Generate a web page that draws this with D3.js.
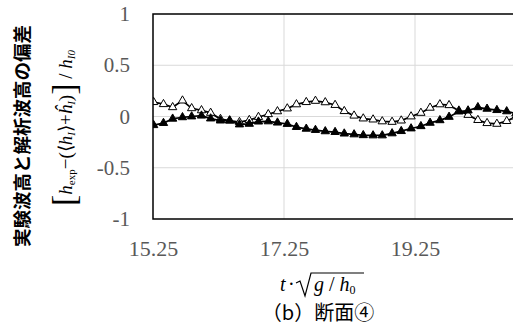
<!DOCTYPE html>
<html>
<head>
<meta charset="utf-8">
<script src="https://cdn.jsdelivr.net/npm/d3@7"></script>
<style>
  html, body { margin: 0; padding: 0; background: #fff; }
  svg { display: block; }
  .cjk { font-family: "Noto Sans CJK JP", sans-serif; }
</style>
</head>
<body>
<svg id="chart" width="513" height="334"></svg>
<script>
// Non-dimensional time t·sqrt(g/h0)
const timeValues = [
  15.26, 15.41, 15.55, 15.70, 15.84, 15.99, 16.13, 16.28, 16.42, 16.57,
  16.72, 16.86, 17.01, 17.15, 17.30, 17.44, 17.59, 17.73, 17.88, 18.03,
  18.17, 18.32, 18.46, 18.61, 18.75, 18.90, 19.04, 19.19, 19.34, 19.48,
  19.63, 19.77, 19.92, 20.06, 20.21, 20.35, 20.50, 20.65, 20.79
];

// Deviation series drawn with open triangles
const deviationOpen = [
  0.14, 0.12, 0.09, 0.155, 0.08, 0.06, 0.035, -0.025, -0.04, -0.055,
  -0.035, -0.005, 0.022, 0.05, 0.078, 0.118, 0.14, 0.152, 0.138, 0.112,
  0.052, 0.008, -0.02, -0.03, -0.048, -0.053, -0.04, 0.0, 0.035, 0.085,
  0.118, 0.11, 0.057, 0.015, -0.035, -0.065, -0.072, -0.045, 0.0
];

// Deviation series drawn with filled triangles
const deviationFilled = [
  -0.085, -0.064, -0.022, -0.008, 0.0, 0.008, -0.02, -0.04, -0.04, -0.078,
  -0.072, -0.05, -0.048, -0.06, -0.073, -0.103, -0.12, -0.132, -0.145, -0.152,
  -0.167, -0.175, -0.183, -0.185, -0.185, -0.165, -0.143, -0.117, -0.095, -0.062,
  -0.037, -0.004, 0.048, 0.058, 0.09, 0.075, 0.062, 0.05, 0.03
];

const xTicks = [15.25, 17.25, 19.25];
const xTickLabels = ["15.25", "17.25", "19.25"];
const yTicks = [-1, -0.5, 0, 0.5, 1];
const yTickLabels = ["-1", "-0.5", "0", "0.5", "1"];

const SERIF = "'Liberation Serif', 'Times New Roman', serif";

const svg = d3.select("#chart");
const plot = { left: 153, top: 14, width: 393, height: 205 };

const x = d3.scaleLinear().domain([15.25, 21.25]).range([plot.left, plot.left + plot.width]);
const y = d3.scaleLinear().domain([-1, 1]).range([plot.top + plot.height, plot.top]);

// gridlines
svg.append("g")
  .selectAll("line")
  .data(xTicks.slice(1))
  .join("line")
  .attr("x1", d => x(d)).attr("x2", d => x(d))
  .attr("y1", plot.top).attr("y2", plot.top + plot.height)
  .attr("stroke", "#d9d9d9").attr("stroke-width", 1);

svg.append("g")
  .selectAll("line")
  .data(yTicks.slice(1, -1))
  .join("line")
  .attr("x1", plot.left).attr("x2", plot.left + plot.width)
  .attr("y1", d => y(d)).attr("y2", d => y(d))
  .attr("stroke", "#d9d9d9").attr("stroke-width", 1);

// tick labels
const yAxis = svg.append("g")
  .attr("transform", `translate(${plot.left},0)`)
  .call(d3.axisLeft(y).tickValues(yTicks)
    .tickFormat((d, i) => yTickLabels[i]).tickSize(0).tickPadding(23));
yAxis.attr("font-family", SERIF).attr("font-size", 21);
yAxis.select(".domain").remove();
yAxis.selectAll("text")
  .style("font-family", SERIF)
  .attr("fill", "#595959");

const xAxis = svg.append("g")
  .attr("transform", `translate(0,${plot.top + plot.height})`)
  .call(d3.axisBottom(x).tickValues(xTicks)
    .tickFormat((d, i) => xTickLabels[i]).tickSize(0));
xAxis.attr("font-family", SERIF).attr("font-size", 22);
xAxis.select(".domain").remove();
xAxis.selectAll("text")
  .style("font-family", SERIF)
  .attr("y", 37).attr("dy", 0)
  .attr("fill", "#595959");

// series
svg.append("clipPath").attr("id", "plotClip")
  .append("rect")
  .attr("x", plot.left).attr("y", plot.top)
  .attr("width", plot.width).attr("height", plot.height);

const seriesGroup = svg.append("g").attr("clip-path", "url(#plotClip)");
const line = d3.line().x(d => x(d[0])).y(d => y(d[1]));
const tri = d3.symbol().type(d3.symbolTriangle).size(30);

function drawSeries(values, filled) {
  const pts = timeValues.map((t, i) => [t, values[i]]);
  seriesGroup.append("path")
    .datum(pts)
    .attr("d", line)
    .attr("fill", "none")
    .attr("stroke", "#000")
    .attr("stroke-width", 1.75);
  seriesGroup.append("g")
    .selectAll("path")
    .data(pts)
    .join("path")
    .attr("transform", d => `translate(${x(d[0])},${y(d[1])})`)
    .attr("d", tri)
    .attr("fill", filled ? "#000" : "#fff")
    .attr("stroke", "#000")
    .attr("stroke-width", 1);
}
drawSeries(deviationOpen, false);
drawSeries(deviationFilled, true);

// plot border
svg.append("rect")
  .attr("x", plot.left).attr("y", plot.top)
  .attr("width", plot.width).attr("height", plot.height)
  .attr("fill", "none").attr("stroke", "#000").attr("stroke-width", 1.5);

// y-axis title, line 1
svg.append("text")
  .attr("class", "cjk")
  .attr("transform", "translate(21,136) rotate(-90)")
  .attr("text-anchor", "middle")
  .attr("dominant-baseline", "central")
  .attr("font-weight", "bold")
  .attr("font-size", 18.5)
  .attr("fill", "#000")
  .text("実験波高と解析波高の偏差");

// y-axis title, line 2 (formula)
const f = svg.append("text")
  .style("font-family", SERIF)
  .attr("transform", "translate(72,128) rotate(-90)")
  .attr("text-anchor", "middle")
  .attr("font-size", 19)
  .attr("fill", "#000");
const parts = [
  { t: "[", size: 34, style: "normal", dy: 3 },
  { t: "h", style: "italic", dy: -3 },
  { t: "exp", size: 11, style: "normal", dy: 3 },
  { t: "\u2212(", style: "normal", dy: -3 },
  { t: "\u27E8", style: "normal" },
  { t: "h", style: "italic" },
  { t: "I", size: 11, style: "italic", dy: 3 },
  { t: "\u27E9", style: "normal", dy: -3 },
  { t: "+", style: "normal" },
  { t: "h\u0302", style: "italic" },
  { t: "I", size: 11, style: "italic", dy: 3 },
  { t: ")", style: "normal", dy: -3 },
  { t: "]", size: 34, style: "normal", dy: 3 },
  { t: " / ", style: "normal", dy: -3 },
  { t: "h", style: "italic" },
  { t: "I0", size: 11, style: "italic", dy: 3 }
];
parts.forEach(p => {
  f.append("tspan")
    .attr("font-size", p.size || 19)
    .attr("font-style", p.style)
    .attr("dy", p.dy || 0)
    .text(p.t);
});

// x-axis title: t·√(g / h0)
const xt = svg.append("g").style("font-family", SERIF).attr("font-size", 20).attr("fill", "#000");
xt.append("text").attr("x", 280).attr("y", 291).attr("font-style", "italic").text("t");
xt.append("text").attr("x", 288).attr("y", 291).text("\u00B7");
xt.append("path")
  .attr("d", "M296,283 L300,281 L305,296 L311,273 L364,273")
  .attr("fill", "none").attr("stroke", "#000").attr("stroke-width", 1.2);
const xt2 = xt.append("text").attr("x", 314).attr("y", 291);
xt2.append("tspan").attr("font-style", "italic").text("g");
xt2.append("tspan").text(" / ");
xt2.append("tspan").attr("font-style", "italic").text("h");
xt2.append("tspan").attr("font-size", 12).attr("dy", 3).text("0");

// caption
svg.append("text")
  .attr("class", "cjk")
  .attr("x", 318).attr("y", 320)
  .attr("text-anchor", "middle")
  .attr("font-size", 20)
  .attr("fill", "#000")
  .text("（b）断面④");
</script>
</body>
</html>
